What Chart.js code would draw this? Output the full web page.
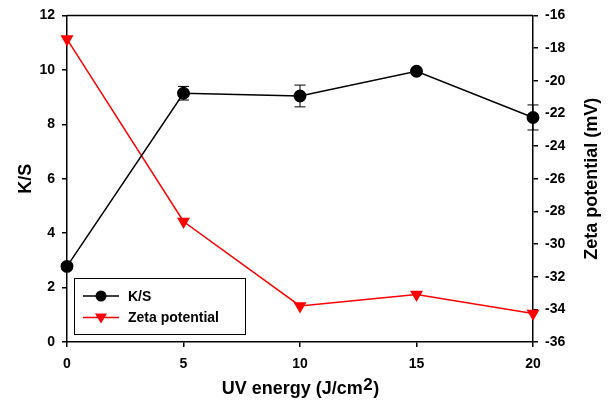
<!DOCTYPE html>
<html>
<head>
<meta charset="utf-8">
<script src="https://cdn.jsdelivr.net/npm/chart.js@4"></script>
<style>
  html, body { margin: 0; padding: 0; background: #fff; }
  #wrap { width: 611px; height: 403px; }
</style>
</head>
<body>
<div id="wrap"><canvas id="lineChart"></canvas></div>
<script>
// data
const uvEnergy = [0, 5, 10, 15, 20];
const ksValues = [2.78, 9.14, 9.04, 9.95, 8.25];
const ksErrors = [0.1, 0.25, 0.4, 0.1, 0.46];
const zetaValues = [-17.45, -28.62, -33.79, -33.09, -34.25];

const FONT = 'Arial, "Liberation Sans", sans-serif';

// error bars for K/S
const errorBars = {
    id: 'errorBars',
    afterDatasetsDraw(chart) {
        const ctx = chart.ctx;
        const x = chart.scales.x, y = chart.scales.y;
        ctx.save();
        ctx.strokeStyle = '#000';
        ctx.lineWidth = 1;
        uvEnergy.forEach((u, i) => {
            const px = x.getPixelForValue(u);
            const top = y.getPixelForValue(ksValues[i] + ksErrors[i]);
            const bot = y.getPixelForValue(ksValues[i] - ksErrors[i]);
            ctx.beginPath();
            ctx.moveTo(px, top); ctx.lineTo(px, bot);
            ctx.moveTo(px - 5.5, top); ctx.lineTo(px + 5.5, top);
            ctx.moveTo(px - 5.5, bot); ctx.lineTo(px + 5.5, bot);
            ctx.stroke();
        });
        ctx.restore();
    }
};

// frame, legend box and the two titles chart.js can't do as wanted
const frameLegend = {
    id: 'frameLegend',
    afterDraw(chart) {
        const ctx = chart.ctx;
        const a = chart.chartArea;
        ctx.save();
        ctx.strokeStyle = '#000';
        ctx.lineWidth = 1.5;
        ctx.beginPath();
        ctx.moveTo(a.left, a.top); ctx.lineTo(a.right, a.top);
        ctx.stroke();

        const bx = a.left + 7, by = a.bottom - 64, bw = 171, bh = 56;
        ctx.fillStyle = '#fff';
        ctx.fillRect(bx, by, bw, bh);
        ctx.lineWidth = 1;
        ctx.strokeRect(bx + 0.5, by + 0.5, bw, bh);

        ctx.font = 'bold 14px ' + FONT;
        ctx.textBaseline = 'middle';
        chart.data.datasets.forEach((ds, i) => {
            const ly = by + 18 + i * 21.5;
            ctx.strokeStyle = ds.borderColor;
            ctx.lineWidth = 1.5;
            ctx.beginPath();
            ctx.moveTo(bx + 9, ly); ctx.lineTo(bx + 45, ly);
            ctx.stroke();
            ctx.fillStyle = ds.pointBackgroundColor;
            ctx.beginPath();
            if (ds.pointStyle === 'triangle') {
                ctx.moveTo(bx + 21, ly - 4);
                ctx.lineTo(bx + 33, ly - 4);
                ctx.lineTo(bx + 27, ly + 6);
                ctx.closePath();
            } else {
                ctx.arc(bx + 27, ly, 5.5, 0, Math.PI * 2);
            }
            ctx.fill();
            ctx.fillStyle = '#000';
            ctx.fillText(ds.label, bx + 54, ly + 1);
        });

        // x title with a real superscript
        const big = 'bold 18px ' + FONT, sup = 'bold 17px ' + FONT;
        const t1 = 'UV energy (J/cm', t2 = '2', t3 = ')';
        ctx.font = big; const w1 = ctx.measureText(t1).width, w3 = ctx.measureText(t3).width;
        ctx.font = sup; const w2 = ctx.measureText(t2).width;
        let tx = (a.left + a.right) / 2 - (w1 + w2 + w3) / 2;
        const base = 394;
        ctx.textBaseline = 'alphabetic';
        ctx.textAlign = 'left';
        ctx.font = big; ctx.fillText(t1, tx, base); tx += w1;
        ctx.font = sup; ctx.fillText(t2, tx + 0.5, base - 4); tx += w2 + 1;
        ctx.font = big; ctx.fillText(t3, tx, base);

        // right title reads bottom to top
        ctx.translate(592, (a.top + a.bottom) / 2);
        ctx.rotate(-Math.PI / 2);
        ctx.textAlign = 'center';
        ctx.textBaseline = 'middle';
        ctx.font = 'bold 18px ' + FONT;
        ctx.fillText('Zeta potential (mV)', 0, 0);
        ctx.restore();
    }
};

const ctx = document.getElementById('lineChart').getContext('2d');
new Chart(ctx, {
    type: 'line',
    data: {
        datasets: [{
            label: 'K/S',
            data: uvEnergy.map((u, i) => ({x: u, y: ksValues[i]})),
            yAxisID: 'y',
            borderColor: '#000',
            backgroundColor: '#000',
            pointBackgroundColor: '#000',
            pointBorderColor: '#000',
            pointStyle: 'circle',
            pointRadius: 5.7,
            borderWidth: 1.5,
            tension: 0,
            clip: false
        }, {
            label: 'Zeta potential',
            data: uvEnergy.map((u, i) => ({x: u, y: zetaValues[i]})),
            yAxisID: 'y2',
            borderColor: '#ff0000',
            backgroundColor: '#ff0000',
            pointBackgroundColor: '#ff0000',
            pointBorderColor: '#ff0000',
            pointStyle: 'triangle',
            pointRotation: 180,
            pointRadius: 6,
            borderWidth: 1.5,
            tension: 0,
            clip: false
        }]
    },
    options: {
        responsive: true,
        maintainAspectRatio: false,
        animation: false,
        layout: { padding: { top: 14, left: 0, right: 0, bottom: 0 } },
        plugins: {
            legend: { display: false },
            tooltip: { enabled: false }
        },
        scales: {
            x: {
                type: 'linear',
                min: 0, max: 20,
                afterFit: s => { s.height = 61; },
                border: { color: '#000', width: 1.5 },
                grid: { drawOnChartArea: false, drawTicks: true, tickLength: 5, color: '#000', lineWidth: 1.5 },
                ticks: { stepSize: 5, color: '#000', padding: 9, font: { family: FONT, size: 14, weight: 'bold' } },
                title: { display: false }
            },
            y: {
                position: 'left',
                min: 0, max: 12,
                afterFit: s => { s.width = 67; },
                border: { color: '#000', width: 1.5 },
                grid: { drawOnChartArea: false, drawTicks: true, tickLength: 5, color: '#000', lineWidth: 1.5 },
                ticks: { stepSize: 2, color: '#000', padding: 7, font: { family: FONT, size: 14, weight: 'bold' } },
                title: { display: true, text: 'K/S', color: '#000', padding: { top: 15, bottom: 0 }, font: { family: FONT, size: 18, weight: 'bold' } }
            },
            y2: {
                position: 'right',
                min: -36, max: -16,
                afterFit: s => { s.width = 78; },
                border: { color: '#000', width: 1.5 },
                grid: { drawOnChartArea: false, drawTicks: true, tickLength: 5, color: '#000', lineWidth: 1.5 },
                ticks: { stepSize: 2, color: '#000', padding: 7, font: { family: FONT, size: 14, weight: 'bold' } },
                title: { display: false }
            }
        }
    },
    plugins: [errorBars, frameLegend]
});
</script>
</body>
</html>
